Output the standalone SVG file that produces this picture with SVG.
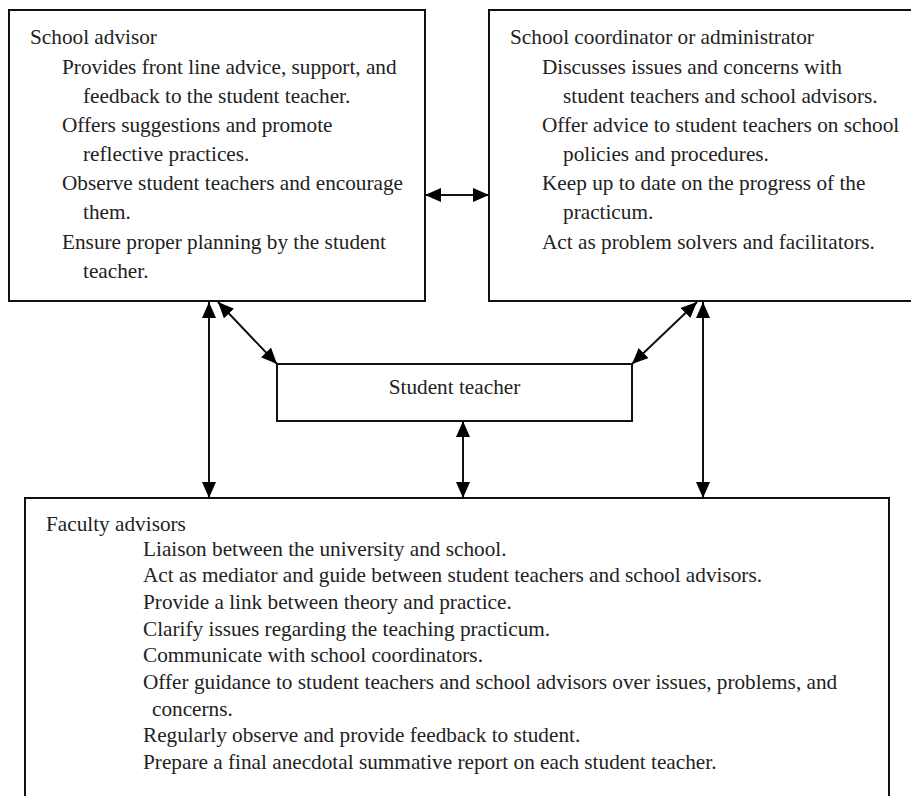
<svg xmlns="http://www.w3.org/2000/svg" width="911" height="796" viewBox="0 0 911 796">
<defs>
<style>
.box{fill:#fff;stroke:#111;stroke-width:2}
.t{font-family:"Liberation Serif","Times New Roman",serif;font-size:21.25px;fill:#222}
.c{stroke:#111;stroke-width:2;fill:none;marker-start:url(#ah);marker-end:url(#ah)}
</style>
<marker id="ah" markerUnits="userSpaceOnUse" markerWidth="16" markerHeight="14" refX="16" refY="7" orient="auto-start-reverse">
<path d="M0,0 L16,7 L0,14 Z" fill="#000"/>
</marker>
</defs>
<rect width="911" height="796" fill="#fff"/>
<g id="school-advisor">
<rect class="box" x="9" y="10" width="416" height="291"/>
<text class="t" x="30" y="44">School advisor</text>
<text class="t" x="62" y="74">Provides front line advice, support, and</text>
<text class="t" x="83" y="103">feedback to the student teacher.</text>
<text class="t" x="62" y="132">Offers suggestions and promote</text>
<text class="t" x="83" y="161">reflective practices.</text>
<text class="t" x="62" y="190">Observe student teachers and encourage</text>
<text class="t" x="83" y="219">them.</text>
<text class="t" x="62" y="249">Ensure proper planning by the student</text>
<text class="t" x="83" y="278">teacher.</text>
</g>
<g id="school-coordinator">
<rect class="box" x="489" y="10" width="440" height="291"/>
<text class="t" x="510" y="44">School coordinator or administrator</text>
<text class="t" x="542" y="74">Discusses issues and concerns with</text>
<text class="t" x="563" y="103">student teachers and school advisors.</text>
<text class="t" x="542" y="132">Offer advice to student teachers on school</text>
<text class="t" x="563" y="161">policies and procedures.</text>
<text class="t" x="542" y="190">Keep up to date on the progress of the</text>
<text class="t" x="563" y="219">practicum.</text>
<text class="t" x="542" y="249">Act as problem solvers and facilitators.</text>
</g>
<g id="student-teacher">
<rect class="box" x="277" y="364" width="355" height="57"/>
<text class="t" x="454.5" y="394" text-anchor="middle">Student teacher</text>
</g>
<g id="faculty-advisors">
<rect class="box" x="25" y="498" width="864" height="330"/>
<text class="t" x="46" y="531">Faculty advisors</text>
<text class="t" x="143" y="556">Liaison between the university and school.</text>
<text class="t" x="143" y="582">Act as mediator and guide between student teachers and school advisors.</text>
<text class="t" x="143" y="609">Provide a link between theory and practice.</text>
<text class="t" x="143" y="636">Clarify issues regarding the teaching practicum.</text>
<text class="t" x="143" y="662">Communicate with school coordinators.</text>
<text class="t" x="143" y="689">Offer guidance to student teachers and school advisors over issues, problems, and</text>
<text class="t" x="152" y="716">concerns.</text>
<text class="t" x="143" y="742">Regularly observe and provide feedback to student.</text>
<text class="t" x="143" y="769">Prepare a final anecdotal summative report on each student teacher.</text>
</g>
<g id="connectors">
<line class="c" x1="425" y1="195" x2="489" y2="195"/>
<line class="c" x1="218" y1="302" x2="277" y2="364"/>
<line class="c" x1="697" y1="302" x2="632" y2="364"/>
<line class="c" x1="209" y1="302" x2="209" y2="498"/>
<line class="c" x1="463" y1="421" x2="463" y2="498"/>
<line class="c" x1="703" y1="302" x2="703" y2="498"/>
</g>
</svg>
